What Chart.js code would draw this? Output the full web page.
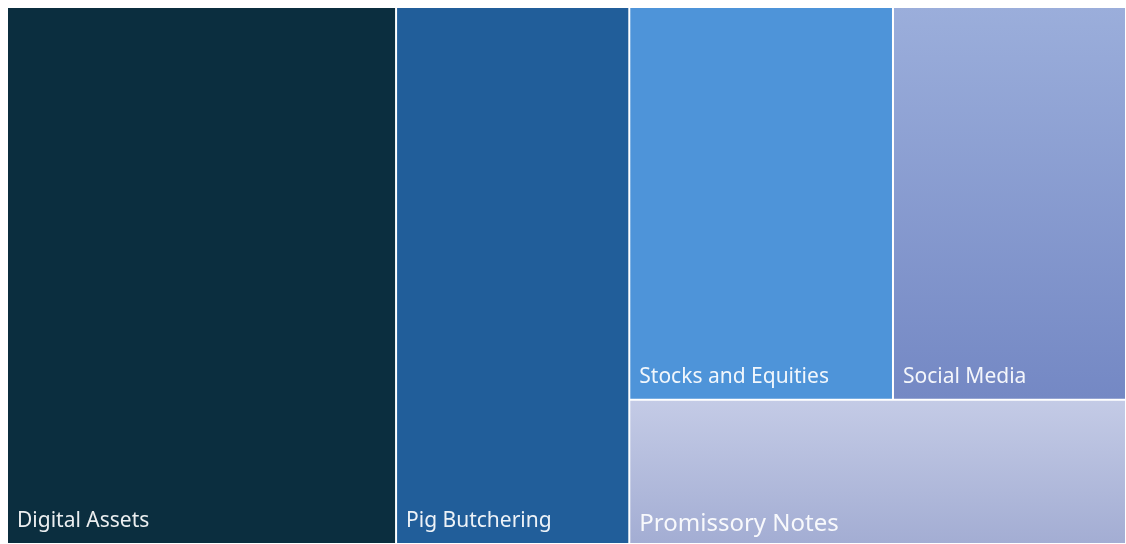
<!DOCTYPE html>
<html>
<head>
<meta charset="utf-8">
<script src="https://cdn.jsdelivr.net/npm/chart.js@4.4.1/dist/chart.umd.min.js"></script>
<style>
  html, body { margin: 0; padding: 0; background: #ffffff; }
  #wrap { width: 1126px; height: 544px; }
</style>
</head>
<body>
<div id="wrap"><canvas id="treemapChart"></canvas></div>
<script>
// share of reported losses by scheme
const categories = ['Digital Assets', 'Pig Butchering', 'Stocks and Equities', 'Social Media', 'Promissory Notes']
const values = [34.7, 20.8, 17.2, 15.2, 11.9]
const topColors = ['#0b2e3f', '#215e9a', '#4e94d9', '#9baedb', '#c4cbe6']
const bottomColors = ['#0b2e3f', '#215e9a', '#4e94d9', '#7488c4', '#a3add3']
const labelSizes = [21, 21, 21, 21, 24]

// nesting of the cells: 'h' splits side by side, 'v' stacks
const tree = { dir: 'h', items: [0, 1, { dir: 'v', items: [{ dir: 'h', items: [2, 3] }, 4] }] }

function nodeSum(node) {
  if (typeof node === 'number') return values[node]
  return node.items.reduce((s, n) => s + nodeSum(n), 0)
}

function layout(node, x0, y0, x1, y1, out) {
  if (typeof node === 'number') {
    out[node] = { x0, y0, x1, y1 }
    return out
  }
  let total = nodeSum(node)
  let pos = node.dir === 'h' ? x0 : y0
  node.items.forEach(n => {
    let share = nodeSum(n) / total
    if (node.dir === 'h') {
      let w = (x1 - x0) * share
      layout(n, pos, y0, pos + w, y1, out)
      pos += w
    } else {
      let h = (y1 - y0) * share
      layout(n, x0, pos, x1, pos + h, out)
      pos += h
    }
  })
  return out
}

const cells = layout(tree, 0, 0, 100, 100, [])

const treemapPlugin = {
  id: 'treemapCells',
  beforeDatasetsDraw(chart) {
    let ctx = chart.ctx
    let xs = chart.scales.x
    let ys = chart.scales.y
    ctx.save()
    cells.forEach((c, i) => {
      let left = xs.getPixelForValue(c.x0)
      let right = xs.getPixelForValue(c.x1)
      let top = ys.getPixelForValue(c.y0)
      let bottom = ys.getPixelForValue(c.y1)
      let grad = ctx.createLinearGradient(0, top, 0, bottom)
      grad.addColorStop(0, topColors[i])
      grad.addColorStop(1, bottomColors[i])
      ctx.fillStyle = grad
      ctx.fillRect(left + 1, top + 1, right - left - 2, bottom - top - 2)

      ctx.fillStyle = 'rgba(255,255,255,0.92)'
      ctx.font = labelSizes[i] + 'px "Noto Sans", sans-serif'
      ctx.textBaseline = 'alphabetic'
      ctx.textAlign = 'left'
      ctx.fillText(categories[i], left + 10, bottom - (i === 4 ? 13 : 17))
    })
    ctx.restore()
  }
}

new Chart(document.getElementById('treemapChart'), {
  type: 'scatter',
  data: { datasets: [{ data: [] }] },
  options: {
    responsive: true,
    maintainAspectRatio: false,
    animation: false,
    events: [],
    layout: { padding: { left: 7, top: 7, right: -1, bottom: 0 } },
    plugins: { legend: { display: false }, tooltip: { enabled: false } },
    scales: {
      x: { type: 'linear', min: 0, max: 100, display: false },
      y: { type: 'linear', min: 0, max: 100, reverse: true, display: false }
    }
  },
  plugins: [treemapPlugin]
})
</script>
</body>
</html>
